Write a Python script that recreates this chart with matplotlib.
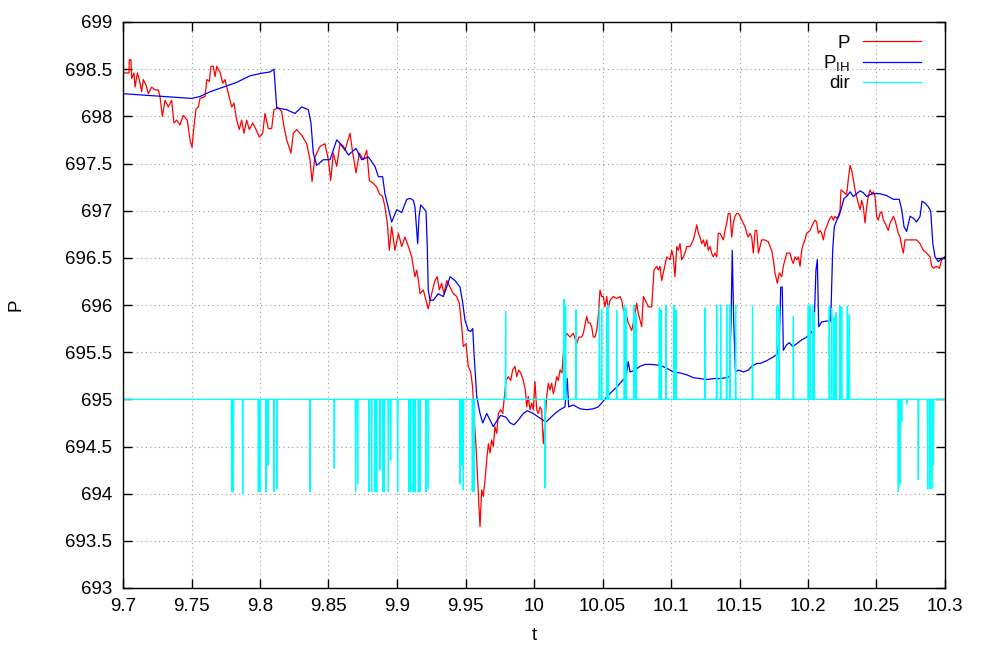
import numpy as np
import matplotlib
matplotlib.use("Agg")
import matplotlib.pyplot as plt
from matplotlib.ticker import MultipleLocator, FormatStrFormatter

# P (red): (t, value) pairs
p_points = [
    (9.7000, 698.46), (9.7044, 698.46), (9.7046, 698.60), (9.7058, 698.60), (9.7063, 698.40),
    (9.7080, 698.46), (9.7088, 698.31), (9.7105, 698.46), (9.7119, 698.39), (9.7136, 698.26),
    (9.7148, 698.39), (9.7168, 698.33), (9.7185, 698.24), (9.7209, 698.31), (9.7234, 698.28),
    (9.7258, 698.28), (9.7270, 698.21), (9.7287, 698.00), (9.7307, 698.17), (9.7331, 698.10),
    (9.7355, 698.17), (9.7372, 697.93), (9.7392, 697.96), (9.7416, 697.91), (9.7440, 698.01),
    (9.7469, 697.96), (9.7489, 697.75), (9.7504, 697.67), (9.7513, 697.82), (9.7533, 698.08),
    (9.7550, 698.10), (9.7562, 698.19), (9.7599, 698.21), (9.7611, 698.39), (9.7630, 698.37),
    (9.7642, 698.53), (9.7659, 698.53), (9.7672, 698.42), (9.7684, 698.53), (9.7708, 698.47),
    (9.7728, 698.35), (9.7745, 698.39), (9.7769, 698.24), (9.7793, 698.10), (9.7810, 698.14),
    (9.7830, 697.96), (9.7849, 697.86), (9.7866, 697.96), (9.7883, 697.82), (9.7903, 697.96),
    (9.7922, 697.86), (9.7947, 697.93), (9.7971, 697.86), (9.7995, 697.78), (9.8020, 697.82),
    (9.8036, 698.03), (9.8061, 697.87), (9.8085, 697.87), (9.8102, 698.07), (9.8134, 698.09),
    (9.8158, 698.05), (9.8175, 697.89), (9.8195, 697.75), (9.8226, 697.61), (9.8243, 697.82),
    (9.8268, 697.86), (9.8304, 697.80), (9.8341, 697.71), (9.8365, 697.54), (9.8380, 697.31),
    (9.8401, 697.57), (9.8438, 697.68), (9.8474, 697.71), (9.8499, 697.54), (9.8516, 697.32),
    (9.8535, 697.61), (9.8560, 697.47), (9.8584, 697.71), (9.8620, 697.64), (9.8657, 697.82),
    (9.8677, 697.61), (9.8701, 697.40), (9.8725, 697.61), (9.8754, 697.54), (9.8779, 697.64),
    (9.8798, 697.32), (9.8827, 697.29), (9.8852, 697.25), (9.8871, 697.18), (9.8895, 697.15),
    (9.8912, 697.04), (9.8929, 696.87), (9.8944, 696.58), (9.8961, 696.83), (9.8985, 696.58),
    (9.9010, 696.76), (9.9034, 696.62), (9.9058, 696.72), (9.9083, 696.62), (9.9107, 696.51),
    (9.9131, 696.30), (9.9144, 696.37), (9.9156, 696.26), (9.9168, 696.12), (9.9192, 696.16),
    (9.9217, 696.02), (9.9228, 695.96), (9.9253, 696.12), (9.9277, 696.26), (9.9294, 696.30),
    (9.9309, 696.16), (9.9326, 696.23), (9.9343, 696.12), (9.9363, 696.26), (9.9387, 696.19),
    (9.9411, 696.12), (9.9436, 696.09), (9.9455, 696.02), (9.9472, 695.77), (9.9484, 695.56),
    (9.9504, 695.59), (9.9520, 695.35), (9.9538, 695.29), (9.9552, 695.13), (9.9564, 694.78),
    (9.9577, 694.50), (9.9586, 694.22), (9.9596, 693.93), (9.9606, 693.65), (9.9618, 694.04),
    (9.9630, 693.97), (9.9642, 694.14), (9.9655, 694.36), (9.9667, 694.53), (9.9679, 694.43),
    (9.9691, 694.57), (9.9703, 694.50), (9.9715, 694.71), (9.9728, 694.64), (9.9740, 694.85),
    (9.9757, 694.89), (9.9772, 694.85), (9.9781, 694.99), (9.9796, 695.20), (9.9812, 695.24),
    (9.9830, 695.20), (9.9844, 695.31), (9.9861, 695.35), (9.9874, 695.24), (9.9888, 695.31),
    (9.9903, 695.28), (9.9922, 695.20), (9.9937, 695.10), (9.9947, 694.92), (9.9958, 695.03),
    (9.9971, 694.89), (9.9983, 694.96), (9.9995, 694.89), (10.0007, 695.19), (10.0020, 694.89),
    (10.0031, 694.85), (10.0044, 694.92), (10.0056, 694.89), (10.0068, 694.53), (10.0080, 694.75),
    (10.0093, 695.03), (10.0104, 695.17), (10.0117, 695.10), (10.0129, 695.17), (10.0141, 695.06),
    (10.0153, 695.13), (10.0166, 695.24), (10.0177, 695.20), (10.0190, 695.31), (10.0204, 695.28),
    (10.0219, 695.59), (10.0239, 695.70), (10.0263, 695.66), (10.0287, 695.70), (10.0312, 695.59),
    (10.0328, 695.66), (10.0348, 695.66), (10.0360, 695.70), (10.0385, 695.88), (10.0396, 695.81),
    (10.0409, 695.81), (10.0421, 695.77), (10.0433, 695.66), (10.0445, 695.66), (10.0458, 695.73),
    (10.0469, 695.88), (10.0482, 696.16), (10.0494, 696.09), (10.0506, 696.09), (10.0518, 695.98),
    (10.0531, 696.09), (10.0542, 695.95), (10.0555, 696.05), (10.0579, 696.09), (10.0604, 696.07),
    (10.0628, 696.09), (10.0640, 696.05), (10.0652, 695.95), (10.0677, 695.88), (10.0688, 695.81),
    (10.0701, 695.77), (10.0713, 695.73), (10.0725, 695.81), (10.0737, 695.91), (10.0750, 696.02),
    (10.0761, 695.91), (10.0774, 695.84), (10.0786, 695.77), (10.0798, 696.09), (10.0823, 696.02),
    (10.0834, 695.98), (10.0859, 695.98), (10.0876, 696.37), (10.0896, 696.41), (10.0907, 696.37),
    (10.0920, 696.41), (10.0932, 696.26), (10.0944, 696.34), (10.0969, 696.51), (10.0993, 696.48),
    (10.1005, 696.58), (10.1017, 696.51), (10.1029, 696.30), (10.1042, 696.62), (10.1053, 696.58),
    (10.1066, 696.65), (10.1078, 696.48), (10.1090, 696.51), (10.1102, 696.55), (10.1115, 696.62),
    (10.1139, 696.62), (10.1163, 696.69), (10.1175, 696.76), (10.1188, 696.85), (10.1200, 696.76),
    (10.1212, 696.72), (10.1224, 696.65), (10.1236, 696.69), (10.1248, 696.62), (10.1261, 696.69),
    (10.1272, 696.58), (10.1285, 696.62), (10.1297, 696.55), (10.1309, 696.51), (10.1321, 696.55),
    (10.1334, 696.51), (10.1345, 696.76), (10.1358, 696.76), (10.1382, 696.69), (10.1394, 696.79),
    (10.1407, 696.87), (10.1418, 696.97), (10.1431, 696.97), (10.1443, 696.72), (10.1455, 696.87),
    (10.1467, 696.94), (10.1480, 696.97), (10.1491, 696.97), (10.1504, 696.94), (10.1516, 696.90),
    (10.1540, 696.83), (10.1553, 696.76), (10.1564, 696.72), (10.1577, 696.76), (10.1589, 696.72),
    (10.1601, 696.55), (10.1613, 696.79), (10.1626, 696.79), (10.1638, 696.55), (10.1650, 696.62),
    (10.1662, 696.69), (10.1686, 696.69), (10.1710, 696.67), (10.1723, 696.62), (10.1735, 696.58),
    (10.1747, 696.48), (10.1759, 696.34), (10.1776, 696.23), (10.1791, 696.34), (10.1808, 696.30),
    (10.1820, 696.41), (10.1832, 696.48), (10.1845, 696.55), (10.1869, 696.55), (10.1881, 696.48),
    (10.1893, 696.44), (10.1905, 696.51), (10.1918, 696.48), (10.1929, 696.51), (10.1942, 696.41),
    (10.1954, 696.58), (10.1966, 696.65), (10.1978, 696.69), (10.1990, 696.76), (10.2015, 696.79),
    (10.2027, 696.83), (10.2039, 696.87), (10.2051, 696.90), (10.2063, 696.88), (10.2075, 696.76),
    (10.2088, 696.79), (10.2100, 696.76), (10.2112, 696.69), (10.2124, 696.79), (10.2136, 696.83),
    (10.2148, 696.88), (10.2161, 696.92), (10.2173, 696.94), (10.2185, 696.90), (10.2197, 696.94),
    (10.2209, 696.92), (10.2221, 696.94), (10.2234, 697.01), (10.2241, 697.22), (10.2258, 697.20),
    (10.2270, 697.18), (10.2282, 697.17), (10.2294, 697.33), (10.2307, 697.48), (10.2319, 697.43),
    (10.2331, 697.33), (10.2343, 697.22), (10.2355, 697.15), (10.2367, 697.08), (10.2380, 697.01),
    (10.2392, 697.11), (10.2404, 697.04), (10.2416, 696.87), (10.2428, 697.04), (10.2440, 697.15),
    (10.2453, 697.22), (10.2465, 697.18), (10.2477, 697.20), (10.2489, 697.15), (10.2501, 696.94),
    (10.2513, 696.90), (10.2526, 696.97), (10.2538, 696.99), (10.2550, 696.90), (10.2562, 696.87),
    (10.2574, 696.83), (10.2586, 696.79), (10.2599, 696.87), (10.2611, 696.90), (10.2623, 696.94),
    (10.2635, 696.90), (10.2647, 696.83), (10.2659, 696.76), (10.2672, 696.72), (10.2684, 696.62),
    (10.2696, 696.55), (10.2708, 696.69), (10.2720, 696.69), (10.2769, 696.69), (10.2793, 696.69),
    (10.2818, 696.65), (10.2842, 696.58), (10.2866, 696.55), (10.2891, 696.51), (10.2903, 696.41),
    (10.2915, 696.39), (10.2939, 696.41), (10.2959, 696.39), (10.2976, 696.48), (10.3000, 696.51),
]

# P_IH (blue)
pih_points = [
    (9.7000, 698.24), (9.7197, 698.22), (9.7392, 698.20), (9.7501, 698.19), (9.7562, 698.21),
    (9.7635, 698.26), (9.7732, 698.31), (9.7830, 698.36), (9.7927, 698.43), (9.8024, 698.46),
    (9.8073, 698.47), (9.8102, 698.50), (9.8122, 698.09), (9.8195, 698.07), (9.8255, 698.03),
    (9.8304, 698.10), (9.8353, 698.07), (9.8372, 697.93), (9.8389, 697.61), (9.8414, 697.48),
    (9.8462, 697.54), (9.8511, 697.54), (9.8560, 697.75), (9.8608, 697.68), (9.8645, 697.59),
    (9.8701, 697.66), (9.8742, 697.54), (9.8791, 697.57), (9.8839, 697.47), (9.8864, 697.36),
    (9.8895, 697.36), (9.8912, 697.18), (9.8961, 696.88), (9.8998, 697.01), (9.9034, 696.98),
    (9.9071, 697.12), (9.9095, 697.13), (9.9119, 697.11), (9.9131, 697.04), (9.9144, 696.79),
    (9.9151, 696.65), (9.9161, 696.94), (9.9173, 697.06), (9.9192, 697.03), (9.9212, 696.99),
    (9.9221, 696.62), (9.9228, 696.16), (9.9241, 696.05), (9.9265, 696.05), (9.9301, 696.12),
    (9.9338, 696.09), (9.9363, 696.19), (9.9387, 696.30), (9.9423, 696.26), (9.9460, 696.19),
    (9.9480, 696.02), (9.9496, 695.84), (9.9520, 695.73), (9.9538, 695.72), (9.9553, 695.75),
    (9.9562, 695.49), (9.9582, 695.03), (9.9606, 694.85), (9.9626, 694.75), (9.9655, 694.85),
    (9.9679, 694.78), (9.9703, 694.71), (9.9732, 694.78), (9.9757, 694.83), (9.9796, 694.81),
    (9.9825, 694.75), (9.9854, 694.73), (9.9885, 694.78), (9.9922, 694.85), (9.9951, 694.88),
    (9.9995, 694.85), (10.0044, 694.80), (10.0088, 694.76), (10.0117, 694.80), (10.0153, 694.85),
    (10.0190, 694.89), (10.0226, 694.92), (10.0243, 695.22), (10.0253, 694.92), (10.0287, 694.94),
    (10.0336, 694.90), (10.0385, 694.89), (10.0433, 694.90), (10.0469, 694.92), (10.0494, 694.96),
    (10.0531, 695.03), (10.0567, 695.08), (10.0604, 695.13), (10.0640, 695.19), (10.0672, 695.24),
    (10.0688, 695.40), (10.0701, 695.29), (10.0737, 695.31), (10.0774, 695.35), (10.0810, 695.37),
    (10.0859, 695.37), (10.0920, 695.36), (10.0969, 695.33), (10.1017, 695.29), (10.1066, 695.28),
    (10.1115, 695.26), (10.1163, 695.23), (10.1212, 695.22), (10.1261, 695.21), (10.1309, 695.22),
    (10.1358, 695.22), (10.1407, 695.23), (10.1426, 695.24), (10.1438, 695.81), (10.1447, 696.58),
    (10.1458, 695.81), (10.1470, 695.29), (10.1491, 695.31), (10.1528, 695.29), (10.1564, 695.31),
    (10.1589, 695.35), (10.1626, 695.38), (10.1650, 695.38), (10.1699, 695.41), (10.1747, 695.45),
    (10.1776, 695.48), (10.1791, 695.66), (10.1801, 696.19), (10.1812, 696.19), (10.1820, 695.52),
    (10.1845, 695.58), (10.1864, 695.60), (10.1888, 695.56), (10.1918, 695.59), (10.1954, 695.63),
    (10.1990, 695.66), (10.2027, 695.71), (10.2044, 695.77), (10.2058, 696.37), (10.2068, 696.48),
    (10.2078, 695.77), (10.2100, 695.82), (10.2136, 695.83), (10.2166, 695.83), (10.2180, 696.58),
    (10.2192, 696.83), (10.2210, 696.90), (10.2228, 696.95), (10.2246, 697.04), (10.2263, 697.13),
    (10.2282, 697.15), (10.2307, 697.20), (10.2331, 697.15), (10.2355, 697.18), (10.2380, 697.21),
    (10.2404, 697.19), (10.2428, 697.15), (10.2453, 697.17), (10.2477, 697.18), (10.2526, 697.18),
    (10.2574, 697.16), (10.2623, 697.12), (10.2666, 697.12), (10.2684, 697.01), (10.2701, 696.83),
    (10.2720, 696.78), (10.2745, 696.94), (10.2769, 696.92), (10.2793, 696.88), (10.2818, 696.94),
    (10.2832, 697.10), (10.2855, 697.08), (10.2879, 697.04), (10.2896, 696.99), (10.2911, 696.65),
    (10.2927, 696.51), (10.2952, 696.46), (10.2976, 696.49), (10.3000, 696.51),
]

# dir (cyan): rests at 695, spikes at these times to these values
dir_base = 695.0
dir_spikes = [
    (9.7793, 694.02), (9.7805, 694.02), (9.7874, 694.00), (9.7988, 694.02), (9.8000, 694.02),
    (9.8044, 694.02), (9.8058, 694.30), (9.8102, 694.02), (9.8124, 694.05), (9.8365, 694.02),
    (9.8542, 694.27), (9.8698, 694.02), (9.8713, 694.10), (9.8796, 694.02), (9.8815, 694.02),
    (9.8839, 694.02), (9.8852, 694.02), (9.8876, 694.25), (9.8896, 694.02), (9.8907, 694.02),
    (9.8937, 694.02), (9.8954, 694.35), (9.9005, 694.02), (9.9088, 694.02), (9.9100, 694.02),
    (9.9119, 694.02), (9.9131, 694.02), (9.9156, 694.02), (9.9168, 694.02), (9.9212, 694.02),
    (9.9228, 694.05), (9.9460, 694.10), (9.9471, 694.30), (9.9484, 694.04), (9.9550, 694.02),
    (9.9562, 694.02), (9.9793, 695.93), (10.0080, 694.06), (10.0219, 696.06), (10.0231, 696.00),
    (10.0307, 695.95), (10.0477, 695.97), (10.0494, 695.95), (10.0531, 695.97), (10.0542, 696.00),
    (10.0604, 695.94), (10.0659, 696.00), (10.0672, 695.97), (10.0730, 696.00), (10.0745, 695.90),
    (10.0915, 695.97), (10.0927, 695.95), (10.0964, 696.00), (10.1022, 696.00), (10.1036, 695.95),
    (10.1248, 695.97), (10.1334, 696.00), (10.1363, 696.00), (10.1407, 696.00), (10.1431, 696.00),
    (10.1472, 696.00), (10.1595, 695.99), (10.1771, 695.99), (10.1788, 695.99), (10.1893, 695.88),
    (10.2002, 696.00), (10.2015, 696.00), (10.2034, 695.99), (10.2044, 695.92), (10.2155, 695.99),
    (10.2173, 695.96), (10.2190, 695.87), (10.2204, 695.92), (10.2234, 695.99), (10.2246, 695.98),
    (10.2287, 695.99), (10.2301, 695.90), (10.2659, 694.02), (10.2672, 694.10), (10.2684, 694.76),
    (10.2721, 694.95), (10.2805, 694.15), (10.2874, 694.05), (10.2891, 694.05), (10.2907, 694.05),
    (10.2915, 694.30),
]

t_min, t_max = 9.7, 10.3

p_t, p_v = zip(*p_points)
pih_t, pih_v = zip(*pih_points)

# build dir as a line that leaves the base level only at the spikes
half_w = 0.0003
dir_t = [t_min]
dir_v = [dir_base]
for st, sv in dir_spikes:
    dir_t += [st - half_w, st, st + half_w]
    dir_v += [dir_base, sv, dir_base]
dir_t.append(t_max)
dir_v.append(dir_base)

plt.rcParams['font.family'] = ['Liberation Sans', 'DejaVu Sans']
plt.rcParams['mathtext.default'] = 'regular'
plt.rcParams['font.size'] = 13.5

fig = plt.figure(figsize=(9.81, 6.52), dpi=100)
ax = fig.add_axes([123 / 981, 1 - 588 / 652, 822 / 981, 566 / 652])

ax.plot(p_t, p_v, color='#ff0000', lw=0.9, label='P')
ax.plot(pih_t, pih_v, color='#0000ff', lw=0.9, label=r'P$_{IH}$')
ax.plot(dir_t, dir_v, color='#00ffff', lw=0.9, label='dir')

ax.set_xlim(t_min, t_max)
ax.set_ylim(693, 699)
ax.xaxis.set_major_locator(MultipleLocator(0.05))
ax.yaxis.set_major_locator(MultipleLocator(0.5))
ax.xaxis.set_major_formatter(FormatStrFormatter('%g'))
ax.yaxis.set_major_formatter(FormatStrFormatter('%g'))

ax.tick_params(direction='in', length=6.5, width=1, top=True, right=True,
               labelsize=13.5, colors='black')
ax.tick_params(axis='x', pad=7)
ax.tick_params(axis='y', pad=8)
for s in ax.spines.values():
    s.set_linewidth(1)
    s.set_color('black')

ax.grid(True, color='#999999', linestyle=(0, (1, 3)), linewidth=0.8)

ax.set_xlabel('t', fontsize=13.5, labelpad=9)
ax.set_ylabel('P', fontsize=13.5, labelpad=29)

ax.legend(loc='upper right', bbox_to_anchor=(0.971, 0.978), frameon=False,
          markerfirst=False, handlelength=3.1, handletextpad=0.7,
          labelspacing=0.1, borderpad=0, borderaxespad=0, fontsize=13.5)

fig.savefig('out.png', dpi=100)
